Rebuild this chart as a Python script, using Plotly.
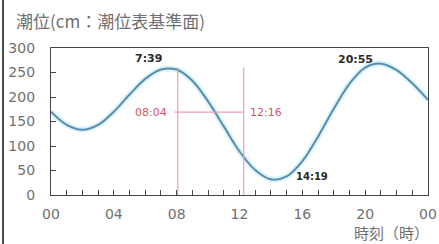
import plotly.graph_objects as go

hours = list(range(25))
tide_cm = [170, 143, 133, 143, 170, 205, 237, 256, 256, 233, 191, 140, 89, 51,
           32, 38, 69, 119, 176, 227, 260, 268, 255, 228, 194]
x_tickvals = [0, 4, 8, 12, 16, 20, 24]
x_ticktext = ["00", "04", "08", "12", "16", "20", "00"]
y_tickvals = [0, 50, 100, 150, 200, 250, 300]

event_labels = ["7:39", "20:55", "14:19"]
event_pos = [(6.2, 278), (19.4, 276), (16.6, 37)]
mark_times = [8.07, 12.27]
mark_labels = ["08:04", "12:16"]
mark_level = 169
mark_top = 260

L, R, T, B = 51, 11, 48, 49
W, H = 439, 244
pw = W - L - R
ph = H - T - B

fig = go.Figure()
fig.add_trace(go.Scatter(x=hours, y=tide_cm, mode="lines",
                         line=dict(color="rgba(190,235,245,0.55)", width=6, shape="spline"),
                         hoverinfo="skip"))
fig.add_trace(go.Scatter(x=hours, y=tide_cm, mode="lines",
                         line=dict(color="#5a8cab", width=2, shape="spline")))

red = "#eaa2ad"
for t in mark_times:
    fig.add_shape(type="line", x0=t, x1=t, y0=0, y1=mark_top,
                  line=dict(color=red, width=1.2))
fig.add_shape(type="line", x0=mark_times[0] - 0.2, x1=mark_times[1], y0=mark_level, y1=mark_level,
              line=dict(color=red, width=1.2))

for txt, (xx, yy) in zip(event_labels, event_pos):
    fig.add_annotation(x=xx, y=yy, text="<b>" + txt + "</b>", showarrow=False,
                       font=dict(size=11 if txt != "14:19" else 10, color="#2a2a2a", family="DejaVu Sans"))

fig.add_annotation(x=6.35, y=mark_level, text=mark_labels[0], showarrow=False,
                   font=dict(size=11, color="#d9536a", family="DejaVu Sans"))
fig.add_annotation(x=13.7, y=mark_level, text=mark_labels[1], showarrow=False,
                   font=dict(size=11, color="#d9536a", family="DejaVu Sans"))

fig.add_annotation(xref="paper", yref="paper", x=(14 - L) / pw, y=1 + (T - 20) / ph,
                   text="潮位(cm：潮位表基準面)", showarrow=False, xanchor="left", yanchor="middle",
                   font=dict(size=17, color="#707070", family="Noto Sans CJK JP"))
fig.add_annotation(xref="paper", yref="paper", x=(431 - L) / pw, y=-(232 - (H - B)) / ph,
                   text="時刻（時）", showarrow=False, xanchor="right", yanchor="middle",
                   font=dict(size=15, color="#707070", family="Noto Sans CJK JP"))

# cropped edge line at far left
fig.add_shape(type="line", xref="paper", yref="paper",
              x0=(3 - L) / pw, x1=(3 - L) / pw, y0=-B / ph, y1=1 + T / ph,
              line=dict(color="#111", width=1.5))

fig.update_xaxes(range=[0, 24], tickvals=x_tickvals, ticktext=x_ticktext,
                 ticks="inside", ticklen=5, tickcolor="#444", ticklabelstandoff=6,
                 minor=dict(dtick=1, ticks="inside", ticklen=5, tickcolor="#444"),
                 showline=True, linecolor="#444", linewidth=1.2, mirror=True,
                 showgrid=False, zeroline=False, automargin=False,
                 tickfont=dict(size=14, color="#707070", family="DejaVu Sans"))
fig.update_yaxes(range=[0, 300], tickvals=y_tickvals,
                 ticks="inside", ticklen=5, tickcolor="#444", ticklabelstandoff=12,
                 showline=True, linecolor="#444", linewidth=1.2, mirror=True,
                 showgrid=False, zeroline=False, automargin=False,
                 tickfont=dict(size=14, color="#707070", family="DejaVu Sans"))

fig.update_layout(width=W, height=H, margin=dict(l=L, r=R, t=T, b=B, autoexpand=False),
                  plot_bgcolor="white", paper_bgcolor="white", showlegend=False)

fig.write_html("out.html", config={"displayModeBar": False},
               post_script="document.body.style.margin='0';document.body.style.overflow='hidden';")
